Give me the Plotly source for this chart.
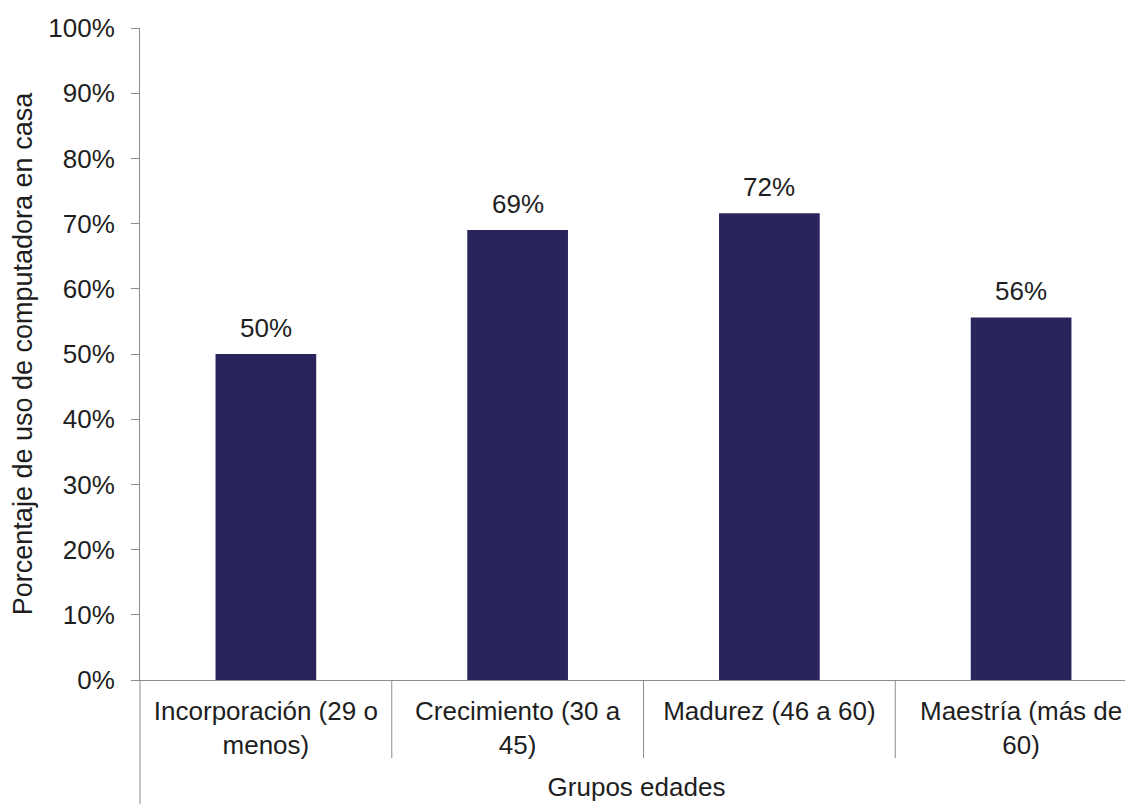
import plotly.graph_objects as go

categories = ["Incorporación (29 o<br>menos)", "Crecimiento (30 a<br>45)",
              "Madurez (46 a 60)", "Maestría (más de<br>60)"]
values = [0.50, 0.69, 0.716, 0.556]
y_ticks = [i / 10 for i in range(11)]
y_tick_labels = [f"{i * 10}%" for i in range(11)]

FONT = "Liberation Sans, Arial, sans-serif"
AXIS_COLOR = "#8C8C8C"
BAR_COLOR = "#29245C"
TEXT_COLOR = "#1E1E1E"
FS = 26

W, H = 1133, 804
ML, MR, MT, MB = 132, 8, 20, 132
plot_h = H - MT - MB

fig = go.Figure()
x_idx = list(range(len(categories)))
fig.add_trace(go.Bar(
    x=x_idx, y=values, width=0.4,
    marker=dict(color=BAR_COLOR, line=dict(width=0)),
    showlegend=False, hoverinfo="y",
))

annotations = [
    dict(x=i, y=v, xref="x", yref="y", text=f"{round(v * 100)}%",
         showarrow=False, yanchor="bottom", yshift=9,
         font=dict(family=FONT, size=FS, color=TEXT_COLOR))
    for i, v in zip(x_idx, values)
]

# category separators below the axis
shapes = []
for i in range(len(categories) - 1):
    shapes.append(dict(type="line", xref="x", yref="paper", x0=i + 0.5, x1=i + 0.5,
                       y0=0, y1=-78 / plot_h, line=dict(color=AXIS_COLOR, width=1)))
shapes.append(dict(type="line", xref="paper", yref="paper", x0=0, x1=0,
                   y0=0, y1=-MB / plot_h, line=dict(color=AXIS_COLOR, width=1)))

fig.update_layout(
    width=W, height=H,
    margin=dict(l=ML, r=MR, t=MT, b=MB),
    plot_bgcolor="white", paper_bgcolor="white",
    font=dict(family=FONT, size=FS, color=TEXT_COLOR),
    shapes=shapes,
    annotations=annotations,
    xaxis=dict(
        tickmode="array", tickvals=x_idx, ticktext=categories,
        range=[-0.5, 3.5 - 14 / 252],
        showline=True, linecolor=AXIS_COLOR, linewidth=1,
        ticks="", showgrid=False, zeroline=False,
        ticklabelstandoff=8,
        tickfont=dict(family=FONT, size=FS, color=TEXT_COLOR),
        title=dict(text="Grupos edades", standoff=18,
                   font=dict(family=FONT, size=FS, color=TEXT_COLOR)),
        automargin=False,
    ),
    yaxis=dict(
        range=[0, 1], tickvals=y_ticks, ticktext=y_tick_labels,
        showline=True, linecolor=AXIS_COLOR, linewidth=1,
        ticks="outside", ticklen=8, tickcolor=AXIS_COLOR,
        ticklabelstandoff=11,
        showgrid=False, zeroline=False,
        tickfont=dict(family=FONT, size=FS, color=TEXT_COLOR),
        title=dict(text="Porcentaje de uso de computadora en casa", standoff=7,
                   font=dict(family=FONT, size=27, color=TEXT_COLOR)),
        automargin=False,
    ),
)

fig.write_html("out.html")
